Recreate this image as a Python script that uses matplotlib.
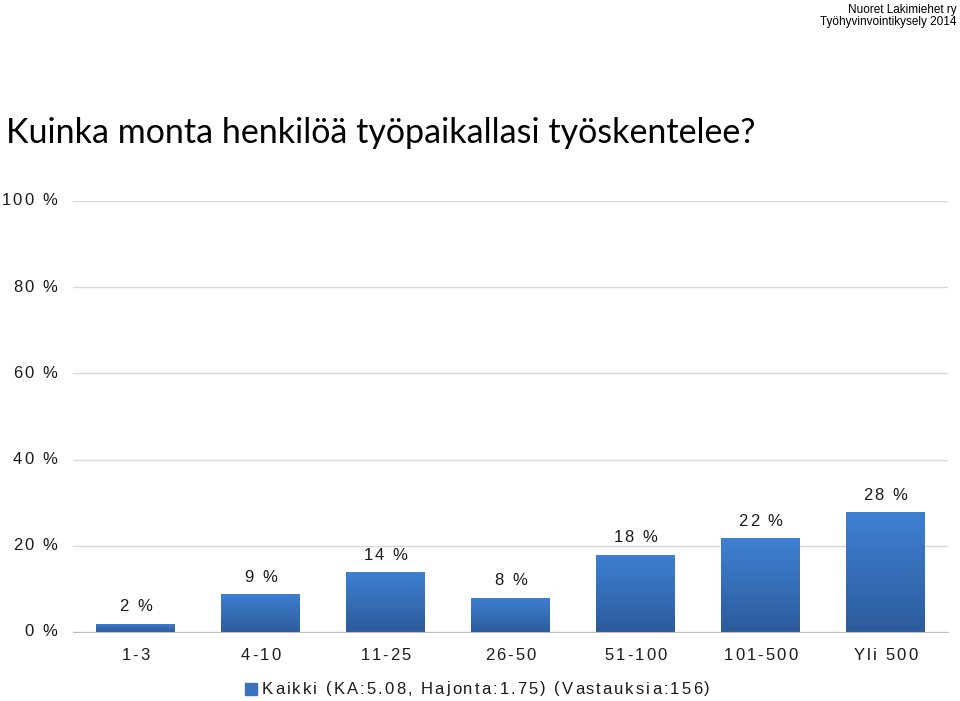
import numpy as np
import matplotlib.pyplot as plt
from matplotlib.colors import LinearSegmentedColormap
from matplotlib.font_manager import FontProperties
from matplotlib.textpath import TextToPath
from matplotlib.transforms import ScaledTranslation, blended_transform_factory

categories = ["1-3", "4-10", "11-25", "26-50", "51-100", "101-500", "Yli 500"]
values = [1.9, 8.8, 13.9, 7.9, 17.9, 21.8, 27.8]
labels = ["2 %", "9 %", "14 %", "8 %", "18 %", "22 %", "28 %"]
yticks = [0, 20, 40, 60, 80, 100]
ytick_labels = ["0 %", "20 %", "40 %", "60 %", "80 %", "100 %"]

plt.rcParams['font.family'] = ['Liberation Sans', 'DejaVu Sans']

fig = plt.figure(figsize=(9.6, 7.01), dpi=100)
ax = fig.add_axes([73/960, 1 - 632/701, 875/960, 431/701])

t2p = TextToPath()

def spaced_text(x, y, s, transform, size=12, spacing=1.5, ha='left', va='center', color='#1a1a1a'):
    # text with extra letter spacing (in points), drawn one char at a time
    prop = FontProperties(family='Liberation Sans', size=size)
    offs = []
    for i in range(len(s)):
        w = t2p.get_text_width_height_descent(s[:i], prop, ismath=False)[0] if i else 0
        offs.append(w + i * spacing)
    total = t2p.get_text_width_height_descent(s, prop, ismath=False)[0] + (len(s) - 1) * spacing
    start = {'left': 0, 'center': -total / 2, 'right': -total}[ha]
    for ch, o in zip(s, offs):
        tr = transform + ScaledTranslation((start + o) / 72, 0, fig.dpi_scale_trans)
        fig.text(x, y, ch, transform=tr, fontsize=size, ha='left', va=va,
                 color=color, fontproperties=prop)

x = np.arange(len(categories))
bars = ax.bar(x, values, width=0.63, color='#3a72bd', zorder=2)

# gradient fill: lighter at top, darker at bottom
cmap = LinearSegmentedColormap.from_list('g', ['#2c5b9c', '#3f80d2'])
grad = np.linspace(0, 1, 256).reshape(-1, 1)
for b in bars:
    bx, by = b.get_x(), b.get_y()
    w, h = b.get_width(), b.get_height()
    im = ax.imshow(grad, cmap=cmap, origin='lower', aspect='auto',
                   extent=[bx, bx + w, by, by + h], zorder=3)
    im.set_clip_path(b)
    b.set_facecolor('none')

ax.set_xlim(-0.5, len(categories) - 0.5)
ax.set_ylim(0, 100)
ax.set_yticks(yticks)
ax.set_xticks(x)
ax.set_xticklabels([])
ax.set_yticklabels([])
ax.tick_params(axis='both', length=0)
ax.grid(axis='y', color='#d9d9d9', linewidth=1, zorder=0)
for s in ['top', 'right', 'left']:
    ax.spines[s].set_visible(False)
ax.spines['bottom'].set_color('#bfbfbf')
ax.spines['bottom'].set_zorder(4)

# value labels above bars
for xi, v, lab in zip(x, values, labels):
    tr = ax.transData + ScaledTranslation(0, 17 / 100, fig.dpi_scale_trans)
    spaced_text(xi, v, lab, tr, ha='center', va='center')

# category labels
xtr = blended_transform_factory(ax.transData, ax.transAxes)
for xi, c in zip(x, categories):
    spaced_text(xi, 0, c, xtr + ScaledTranslation(0, -24 / 100, fig.dpi_scale_trans),
                ha='center', va='center')

# y tick labels
ytr = blended_transform_factory(ax.transAxes, ax.transData)
for yv, lab in zip(yticks, ytick_labels):
    spaced_text(0, yv, lab, ytr + ScaledTranslation(-16 / 100, 0, fig.dpi_scale_trans),
                ha='right', va='center')

fig.text(6/960, 1 - 133/701, "Kuinka monta henkilöä työpaikallasi työskentelee?",
         fontsize=24.5, ha='left', va='center', family=['Lato', 'DejaVu Sans'])
fig.text(957/960, 1 - 10/701, "Nuoret Lakimiehet ry", fontsize=8.5, ha='right', va='center')
fig.text(957/960, 1 - 22/701, "Työhyvinvointikysely 2014", fontsize=8.5, ha='right', va='center')

# legend
fig.patches.append(plt.Rectangle((245/960, 1 - 695/701), 12/960, 12/701,
                                 transform=fig.transFigure, color='#3a72bd'))
spaced_text(262/960, 1 - 689/701, "Kaikki (KA:5.08, Hajonta:1.75) (Vastauksia:156)",
            fig.transFigure, ha='left', va='center')

fig.savefig('out.png', dpi=100)
